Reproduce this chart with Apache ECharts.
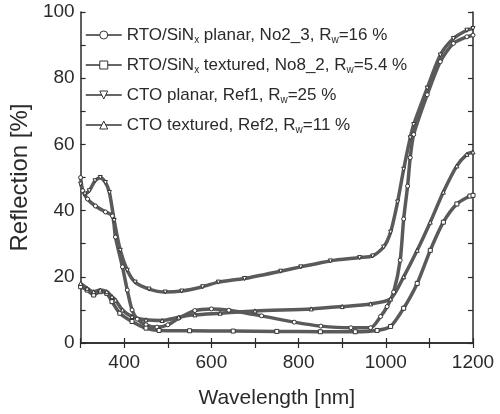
<!DOCTYPE html>
<html><head><meta charset="utf-8">
<script src="https://cdn.jsdelivr.net/npm/echarts@6/dist/echarts.min.js"></script>
<style>html,body{margin:0;padding:0;background:#fff}#c{width:500px;height:414px}</style>
</head><body><div id="c"></div>
<script>
// RTO/SiNx planar (circles)
var rtoPlanarNm = [300,305,316,334,357,373,380,396,407,418,430,450,475,500,525,562,600,640,715,790,851,920,965,988,1003,1018,1033,1041,1050,1056,1064,1095,1125,1155,1186,1200];
var rtoPlanarR  = [50,46,43.5,41.4,39.6,38.4,32,23,16,10,7.2,5.5,4.8,5.5,7.5,9.8,10.3,9.9,8.2,6.3,5.1,4.6,4.6,8,11,15.4,25,37.5,47.4,56,63,75,85,90.5,92.5,93];
// RTO/SiNx textured (squares)
var rtoTexNm = [300,315,330,345,360,372,390,418,450,480,550,650,750,850,930,980,1011,1041,1072,1102,1132,1163,1193,1200];
var rtoTexR  = [17,16,14.5,15.5,15,12.5,9,6.5,4.5,3.8,3.7,3.6,3.5,3.4,3.4,3.8,5,10.5,18,28,36.5,42,44.4,44.6];
// CTO planar (down triangles)
var ctoPlanarNm = [300,310,320,333,345,357,366,377,391,407,425,457,494,532,580,616,676,759,805,873,940,970,995,1011,1027,1041,1056,1064,1095,1125,1155,1186,1200];
var ctoPlanarR  = [48,45,46,49,50,48.5,45.5,37,28,22,18.4,16.3,15.4,15.7,17,18.4,19.5,21.7,23,24.8,25.8,26.3,29,33.5,42.6,52.5,62,66,77,87,92,94.5,95];
// CTO textured (up triangles)
var ctoTexNm = [300,315,330,345,360,372,380,396,418,450,487,525,562,620,700,829,900,965,1011,1041,1072,1102,1132,1163,1186,1200];
var ctoTexR  = [18,16.5,15.5,16,15.5,14,13,10,8,7,6.8,7.8,8.5,9,9.7,10.3,11,11.8,13.3,20,28,36.5,45.6,53.5,57,57.7];

var seriesNames = ['rtoPlanar','rtoTex','ctoPlanar','ctoTex'];
var legendLabels = {
  rtoPlanar: '{a|RTO/SiN}{s|x}{a| planar, No2_3, R}{s|w}{a|=16 %}',
  rtoTex: '{a|RTO/SiN}{s|x}{a| textured, No8_2, R}{s|w}{a|=5.4 %}',
  ctoPlanar: '{a|CTO planar, Ref1, R}{s|w}{a|=25 %}',
  ctoTex: '{a|CTO textured, Ref2, R}{s|w}{a|=11 %}'
};
var xTicks = [400,600,800,1000,1200];
var yTicks = [0,20,40,60,80,100];

function pairs(xs, ys){ return xs.map(function(x,i){ return [x, ys[i]]; }); }
var downTri = 'path://M0,0L10,0L5,9Z';
var symbols = {rtoPlanar:'circle', rtoTex:'rect', ctoPlanar:downTri, ctoTex:'triangle'};
var dataMap = {
  rtoPlanar: pairs(rtoPlanarNm, rtoPlanarR),
  rtoTex: pairs(rtoTexNm, rtoTexR),
  ctoPlanar: pairs(ctoPlanarNm, ctoPlanarR),
  ctoTex: pairs(ctoTexNm, ctoTexR)
};

var ink = '#2a2a2a';
var font = 'Arial, "Liberation Sans", sans-serif';
var chart = echarts.init(document.getElementById('c'), null, {renderer:'canvas'});
var series = seriesNames.map(function(n){
  return {
    name: n, type: 'line', data: dataMap[n], smooth: 0.25,
    symbol: symbols[n], symbolSize: 4, showSymbol: true,
    lineStyle: {color: '#5a5a5a', width: 3.5},
    itemStyle: {color: '#fff', borderColor: '#333', borderWidth: 1},
    animation: false
  };
});
var axisCommon = {
  axisLine: {show: true, lineStyle: {color: ink, width: 1.5}},
  axisTick: {show: true, inside: true, length: 5, lineStyle: {color: ink, width: 1.2}},
  splitLine: {show: false}
};
chart.setOption({
  backgroundColor: '#fff',
  animation: false,
  grid: {left: 78, right: 27, top: 12, bottom: 70},
  legend: {
    orient: 'vertical', left: 80, top: 20, itemWidth: 36, itemHeight: 10, itemGap: 10, itemTextGap: 5,
    data: seriesNames,
    lineStyle: {width: 1.5, color: '#333'},
    itemStyle: {color: '#fff', borderColor: '#333', borderWidth: 1},
    formatter: function(n){ return legendLabels[n]; },
    textStyle: {
      color: ink, fontFamily: font,
      rich: {
        a: {fontSize: 17, fontFamily: font, color: ink, lineHeight: 20},
        s: {fontSize: 10, fontFamily: font, color: ink, lineHeight: 20, verticalAlign: 'bottom', padding: [10,0,0,0]}
      }
    }
  },
  xAxis: [
    Object.assign({type: 'value', min: 300, max: 1200, interval: 100, position: 'bottom',
      name: 'Wavelength [nm]', nameLocation: 'middle', nameGap: 45,
      nameTextStyle: {fontSize: 21, color: ink, fontFamily: font},
      axisLabel: {fontSize: 19, color: ink, fontFamily: font, margin: 10,
        formatter: function(v){ return xTicks.indexOf(v) >= 0 ? String(v) : ''; }}
    }, axisCommon),
    Object.assign({type: 'value', min: 300, max: 1200, interval: 100, position: 'top',
      axisLabel: {show: false}}, axisCommon)
  ],
  yAxis: [
    Object.assign({type: 'value', min: 0, max: 100, interval: 10, position: 'left',
      name: 'Reflection [%]', nameLocation: 'middle', nameGap: 41,
      nameTextStyle: {fontSize: 24, color: ink, fontFamily: font},
      axisLabel: {fontSize: 19, color: ink, fontFamily: font, margin: 6,
        formatter: function(v){ return yTicks.indexOf(v) >= 0 ? String(v) : ''; }}
    }, axisCommon),
    Object.assign({type: 'value', min: 0, max: 100, interval: 10, position: 'right',
      axisLabel: {show: false}}, axisCommon)
  ],
  series: series
});
</script></body></html>
